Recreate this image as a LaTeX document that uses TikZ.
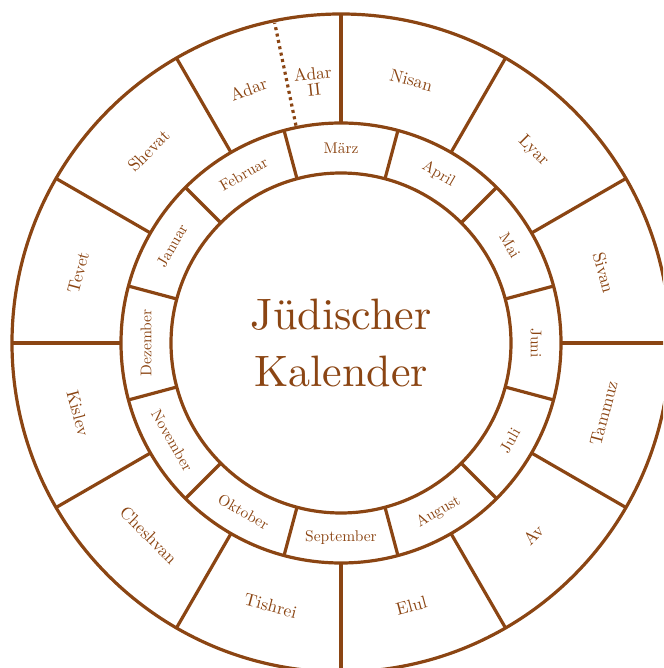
\documentclass[tikz,border=0pt]{standalone}
\usepackage{fontspec}
\setmainfont{lmroman10-regular.otf}
\definecolor{brn}{HTML}{8B4513}
\begin{document}
\begin{tikzpicture}[
  ring/.style={draw=brn, line width=3.2pt},
  heb/.style={text=brn, font=\fontsize{17.5}{16}\selectfont, align=center, inner sep=0pt},
  greg/.style={text=brn, font=\fontsize{15.5}{17}\selectfont, inner sep=0pt},
  title/.style={text=brn, font=\fontsize{44}{57}\selectfont, align=center}
]
\useasboundingbox (-341pt,-325pt) rectangle (322pt,343pt);
\clip (-341pt,-325pt) rectangle (322pt,343pt);
% rings
\draw[ring] (0,0) circle[radius=329pt];
\draw[ring] (0,0) circle[radius=220pt];
\draw[ring] (0,0) circle[radius=170pt];
% dividers
\foreach \a in {0,30,...,330} \draw[ring] (\a:220pt) -- (\a:329pt);
\foreach \a in {15,45,...,345} \draw[ring] (\a:170pt) -- (\a:220pt);
\draw[ring, dash pattern=on 3pt off 3.5pt] (101.7:222pt) -- (101.7:327pt);
% hebrew months
\foreach \a/\t/\n in {75/Nisan/nisan, 45/Lyar/lyar, 15/Sivan/sivan, -15/Tammuz/tammuz,
  -45/Av/av, -75/Elul/elul, -105/Tishrei/tishrei, -135/Cheshvan/cheshvan,
  -165/Kislev/kislev, 165/Tevet/tevet, 135/Shevat/shevat}{
  \pgfmathsetmacro{\rot}{\a>=0 ? \a-90 : \a+90}
  \node[heb, rotate=\rot] (\n) at (\a:272pt) {\t};
}
\node[heb, rotate=20] (adar) at (110:270pt) {Adar};
\node[heb, rotate=6] (adarii) at (96:263pt) {Adar\\II};
% gregorian months
\foreach \a/\t/\n in {90/März/maerz, 60/April/april, 30/Mai/mai, 0/Juni/juni,
  -30/Juli/juli, -60/August/august, -90/September/september, -120/Oktober/oktober,
  -150/November/november, 180/Dezember/dezember, 150/Januar/januar, 120/Februar/februar}{
  \pgfmathsetmacro{\rot}{\a>=0 ? \a-90 : \a+90}
  \node[greg, rotate=\rot] (\n) at (\a:195pt) {\t};
}
\node[title] (title) at (0,0) {Jüdischer\\Kalender};
\end{tikzpicture}
\end{document}
